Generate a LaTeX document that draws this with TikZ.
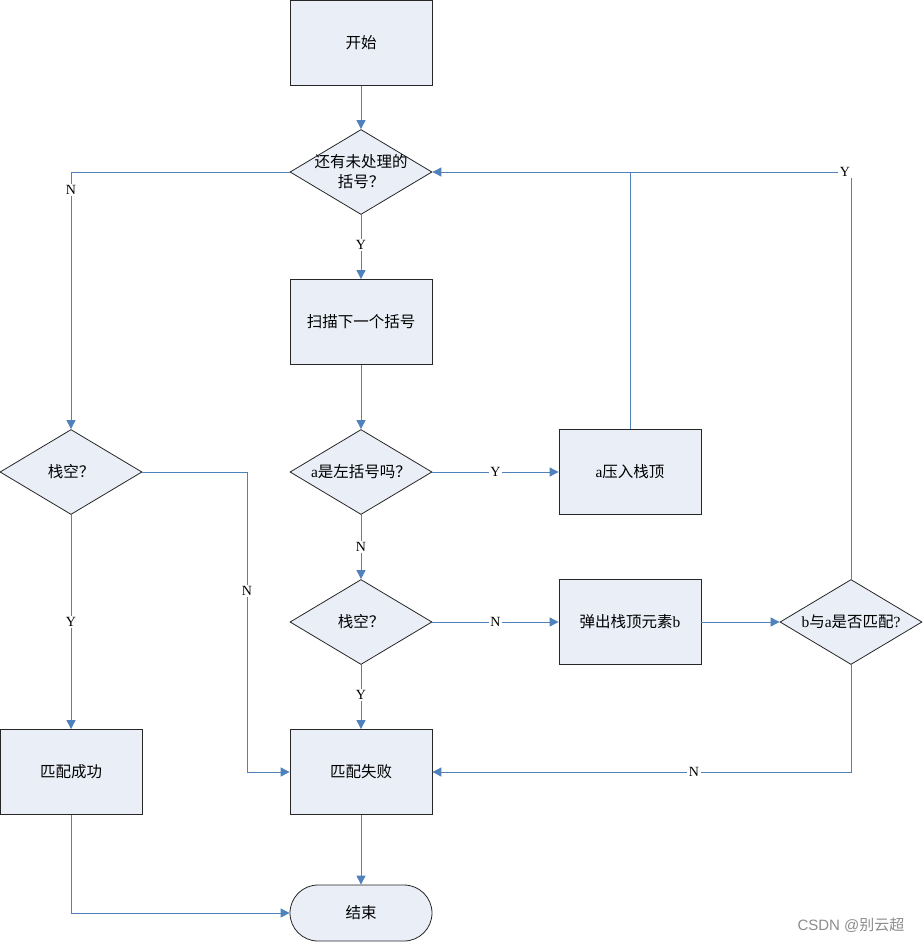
\documentclass[tikz,border=0pt]{standalone}
\usepackage{fontspec}
\setmainfont{Liberation Serif}
\newfontfamily\cjk{Noto Sans CJK SC}
\newfontfamily\wmfont{Liberation Sans}
\usetikzlibrary{shapes.geometric,shapes.misc,arrows.meta}
\definecolor{linec}{HTML}{4F81BD}
\definecolor{fillc}{HTML}{E9EEF7}
\tikzset{
  boxnode/.style={draw=black!85,fill=fillc,line width=0.8pt,minimum width=142pt,minimum height=85pt,inner sep=0pt,font=\fontsize{15.5}{19}\selectfont},
  decnode/.style={draw=black!85,fill=fillc,line width=0.8pt,diamond,aspect=1.67,minimum width=142pt,minimum height=85pt,inner sep=0pt,font=\fontsize{15.5}{19}\selectfont,align=center},
  termnode/.style={draw=black!85,fill=fillc,line width=0.8pt,rounded rectangle,minimum width=142pt,minimum height=56pt,inner sep=0pt,font=\fontsize{15.5}{19}\selectfont},
  conn/.style={draw=linec,line width=0.9pt,-{Triangle[length=9pt,width=9pt]}},
  plainconn/.style={draw=linec,line width=0.9pt},
  lab/.style={fill=white,inner sep=1.5pt,font=\fontsize{14}{16}\selectfont}
}
\begin{document}
\begin{tikzpicture}[x=1pt,y=-1pt]
\useasboundingbox (0,0) rectangle (923,943);
\node[boxnode] (start) at (361,43) {\cjk 开始};
\node[decnode,label={[align=center,inner sep=0pt,font=\fontsize{15.5}{20}\selectfont]center:{\cjk 还有未处理的}\\{\cjk 括号？}}] (d1) at (361,172) {};
\node[boxnode] (scan) at (361,322) {\cjk 扫描下一个括号};
\node[decnode] (d2) at (361,472) {a{\cjk 是左括号吗？}};
\node[boxnode] (push) at (630,472) {a{\cjk 压入栈顶}};
\node[decnode] (d3) at (361,622) {\cjk 栈空？};
\node[boxnode] (pop) at (630,622) {{\cjk 弹出栈顶元素}b};
\node[decnode] (d4) at (851,622) {b{\cjk 与}a{\cjk 是否匹配}?};
\node[boxnode] (fail) at (361,772) {\cjk 匹配失败};
\node[termnode] (end) at (361,913) {\cjk 结束};
\node[decnode] (d5) at (71,472) {\cjk 栈空？};
\node[boxnode] (succ) at (71,772) {\cjk 匹配成功};
\coordinate (c1) at (71,172);
\coordinate (c2) at (630,172);
\coordinate (c3) at (851,172);
\coordinate (c4) at (851,772);
\coordinate (c5) at (247,472);
\coordinate (c6) at (247,772);
\coordinate (c7) at (71,913);

\draw[conn] (start) -- (d1);
\draw[conn] (d1.west) -- (c1) -- (d5.north);
\node[lab] at (71,190) {N};
\draw[conn] (d1) -- node[lab,pos=0.47]{Y} (scan);
\draw[conn] (scan) -- (d2);
\draw[conn] (d2.east) -- node[lab]{Y} (push.west);
\draw[conn] (push.north) -- (c2) -- (d1.east);
\draw[conn] (d2) -- node[lab]{N} (d3);
\draw[conn] (d3.east) -- node[lab]{N} (pop.west);
\draw[conn] (d3) -- node[lab,pos=0.47]{Y} (fail);
\draw[conn] (pop.east) -- (d4.west);
\draw[plainconn] (d4.north) -- (c3) -- (c2);
\node[lab] at (845,172) {Y};
\draw[conn] (d4.south) -- (c4) -- node[lab,pos=0.375]{N} (fail.east);
\draw[conn] (d5.east) -- (c5) -- (c6) -- (fail.west);
\node[lab] at (247,591) {N};
\draw[conn] (d5) -- node[lab]{Y} (succ);
\draw[conn] (succ.south) -- (c7) -- (end.west);
\draw[conn] (fail) -- (end);
\node[text=black!45,font=\fontsize{15}{17}\selectfont,anchor=east] (wm) at (908,925) {\wmfont CSDN @{\cjk 别云超}};
\end{tikzpicture}
\end{document}
